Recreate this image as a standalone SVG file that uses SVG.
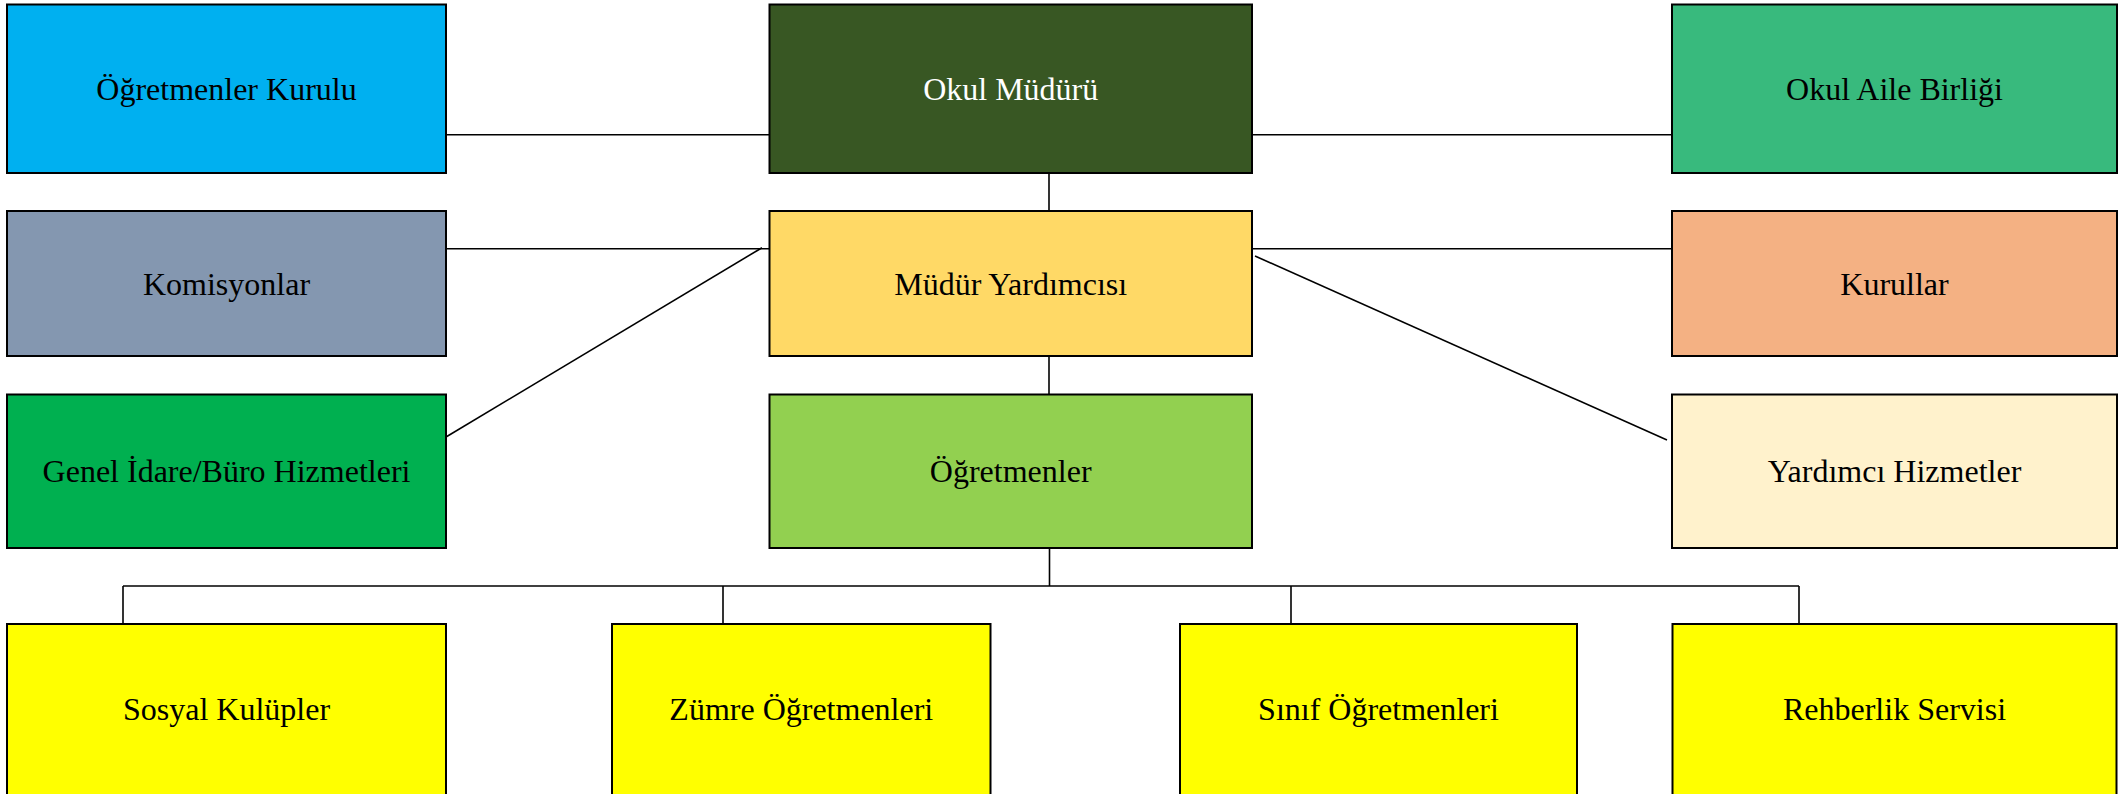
<svg xmlns="http://www.w3.org/2000/svg" width="2126" height="794" viewBox="0 0 2126 794">
<style>
.box{stroke:#000;stroke-width:2}
.lbl{font-family:"Liberation Serif","Times New Roman",serif;font-size:32px;text-anchor:middle;fill:#000}
.conn line{stroke:#000;stroke-width:1.6;fill:none}
</style>
<rect width="2126" height="794" fill="#fff"/>
<g id="connectors" class="conn">
<line x1="446" y1="134.7" x2="769" y2="134.7"/>
<line x1="1252" y1="134.7" x2="1672" y2="134.7"/>
<line x1="1049" y1="173" x2="1049" y2="211"/>
<line x1="446" y1="248.7" x2="769" y2="248.7"/>
<line x1="1252" y1="248.7" x2="1672" y2="248.7"/>
<line x1="762" y1="247.7" x2="446" y2="437"/>
<line x1="1255" y1="256" x2="1667" y2="440"/>
<line x1="1049" y1="356" x2="1049" y2="394"/>
<line x1="1049.5" y1="548" x2="1049.5" y2="586"/>
<line x1="123" y1="586" x2="1799" y2="586"/>
<line x1="123" y1="586" x2="123" y2="624"/>
<line x1="723" y1="586" x2="723" y2="624"/>
<line x1="1291" y1="586" x2="1291" y2="624"/>
<line x1="1799" y1="586" x2="1799" y2="624"/>
</g>
<g id="ogretmenler-kurulu"><rect class="box" x="7" y="4.5" width="439" height="168.5" fill="#00B0F0"/><text class="lbl" x="226.5" y="99.5">Öğretmenler Kurulu</text></g>
<g id="okul-muduru"><rect class="box" x="769.5" y="4.5" width="482.5" height="168.5" fill="#385723"/><text class="lbl" x="1010.7" y="99.5" style="fill:#fff">Okul Müdürü</text></g>
<g id="okul-aile-birligi"><rect class="box" x="1672" y="4.5" width="445" height="168.5" fill="#38BA7D"/><text class="lbl" x="1894.5" y="99.5">Okul Aile Birliği</text></g>
<g id="komisyonlar"><rect class="box" x="7" y="211" width="439" height="145" fill="#8497B0"/><text class="lbl" x="226.5" y="294.5">Komisyonlar</text></g>
<g id="mudur-yardimcisi"><rect class="box" x="769.5" y="211" width="482.5" height="145" fill="#FFD966"/><text class="lbl" x="1010.7" y="294.5">Müdür Yardımcısı</text></g>
<g id="kurullar"><rect class="box" x="1672" y="211" width="445" height="145" fill="#F4B183"/><text class="lbl" x="1894.5" y="294.5">Kurullar</text></g>
<g id="genel-idare"><rect class="box" x="7" y="394.5" width="439" height="153.5" fill="#00B050"/><text class="lbl" x="226.5" y="482">Genel İdare/Büro Hizmetleri</text></g>
<g id="ogretmenler"><rect class="box" x="769.5" y="394.5" width="482.5" height="153.5" fill="#92D050"/><text class="lbl" x="1010.7" y="482">Öğretmenler</text></g>
<g id="yardimci-hizmetler"><rect class="box" x="1672" y="394.5" width="445" height="153.5" fill="#FFF2CC"/><text class="lbl" x="1894.5" y="482">Yardımcı Hizmetler</text></g>
<g id="sosyal-kulupler"><rect class="box" x="7" y="624" width="439" height="176" fill="#FFFF00"/><text class="lbl" x="226.5" y="720">Sosyal Kulüpler</text></g>
<g id="zumre-ogretmenleri"><rect class="box" x="612" y="624" width="378.5" height="176" fill="#FFFF00"/><text class="lbl" x="801.3" y="720">Zümre Öğretmenleri</text></g>
<g id="sinif-ogretmenleri"><rect class="box" x="1180" y="624" width="397" height="176" fill="#FFFF00"/><text class="lbl" x="1378.5" y="720">Sınıf Öğretmenleri</text></g>
<g id="rehberlik-servisi"><rect class="box" x="1672.5" y="624" width="444" height="176" fill="#FFFF00"/><text class="lbl" x="1894.5" y="720">Rehberlik Servisi</text></g>
</svg>
